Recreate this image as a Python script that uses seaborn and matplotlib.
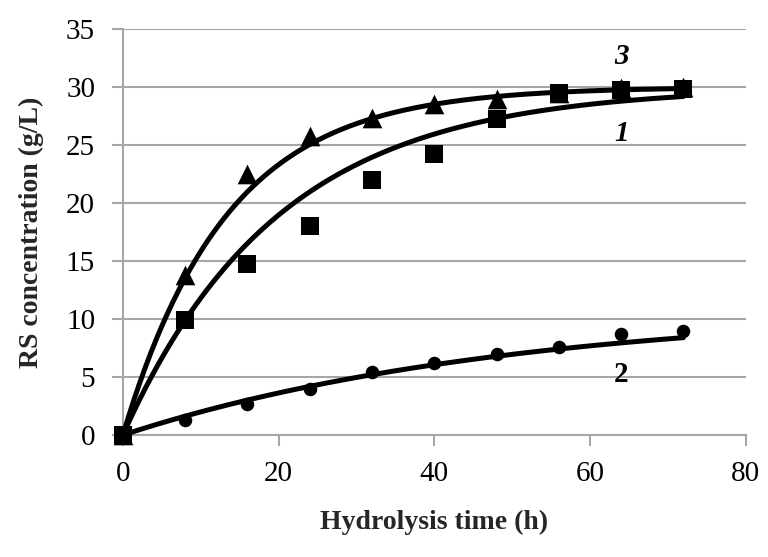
import numpy as np
import pandas as pd
import matplotlib
matplotlib.use('Agg')
import matplotlib.pyplot as plt
import seaborn as sns

# 取樣時間 (h)
time_h = [0, 8, 16, 24, 32, 40, 48, 56, 64, 72]

# 三組還原糖濃度 (g/L)
rs_1 = [0, 9.9, 14.7, 18.0, 22.0, 24.2, 27.2, 29.5, 29.7, 29.8]   # 方塊
rs_2 = [0, 1.3, 2.7, 4.0, 5.4, 6.2, 7.0, 7.6, 8.7, 9.0]           # 圓點
rs_3 = [0, 13.8, 22.5, 25.8, 27.3, 28.5, 29.0, 29.5, 29.9, 30.0]  # 三角形

# 擬合曲線參數 C = A * (1 - exp(-k t))
fit_A = {'1': 30.0, '2': 11.0, '3': 30.0}
fit_k = {'1': 0.05, '2': 0.02, '3': 0.075}

curve_labels = ['3', '1', '2']
label_x = [64, 64, 64]
label_y = [32.6, 26.0, 5.2]

sns.set_theme(style="white")
plt.rcParams['font.family'] = ['Liberation Serif', 'DejaVu Serif']

df = pd.DataFrame({
    'time': time_h * 3,
    'rs': rs_1 + rs_2 + rs_3,
    'series': ['1'] * len(time_h) + ['2'] * len(time_h) + ['3'] * len(time_h),
})

fig, ax = plt.subplots(figsize=(7.68, 5.57), dpi=100)
fig.subplots_adjust(left=0.160, right=0.971, top=0.948, bottom=0.219)

markers = {'1': 's', '2': 'o', '3': '^'}
sizes = {'1': 160, '2': 95, '3': 200}

# 擬合曲線
t_fit = np.linspace(0, 72, 200)
for s in ['1', '2', '3']:
    y_fit = fit_A[s] * (1 - np.exp(-fit_k[s] * t_fit))
    sns.lineplot(x=t_fit, y=y_fit, ax=ax, color='black', linewidth=3.6, zorder=3)

# 實驗點
for s in ['1', '2', '3']:
    sub = df[df['series'] == s]
    sns.scatterplot(data=sub, x='time', y='rs', ax=ax, marker=markers[s], s=sizes[s],
                    color='black', edgecolor='black', linewidth=0, zorder=4, clip_on=False)

for lab, lx, ly in zip(curve_labels, label_x, label_y):
    ax.text(lx, ly, lab, fontsize=21, style='normal' if lab == '2' else 'italic',
            fontweight='bold', ha='center', va='center', color='black')

ax.set_xlim(0, 80)
ax.set_ylim(0, 35)
ax.set_xticks([0, 20, 40, 60, 80])
ax.set_yticks(range(0, 36, 5))
ax.yaxis.grid(True, color='#a6a6a6', linewidth=1.5)
ax.set_axisbelow(True)

for side in ['top', 'right']:
    ax.spines[side].set_visible(False)
for side in ['left', 'bottom']:
    ax.spines[side].set_color('#a6a6a6')
    ax.spines[side].set_linewidth(1.5)

ax.tick_params(axis='both', which='major', direction='out', length=8, width=1.5,
               color='#a6a6a6', labelsize=21, labelcolor='black',
               bottom=True, left=True)
ax.tick_params(axis='x', pad=11)
ax.tick_params(axis='y', pad=12)

ax.set_xlabel('Hydrolysis time (h)', fontsize=20, fontweight='bold', labelpad=16)
ax.set_ylabel('RS concentration (g/L)', fontsize=20, fontweight='bold', labelpad=16)

fig.savefig('out.png', dpi=100)
